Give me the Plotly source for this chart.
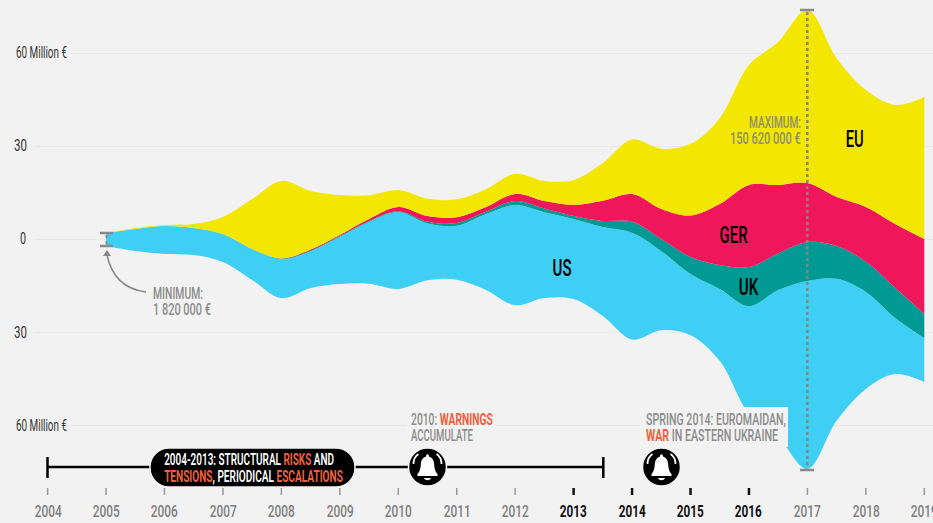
import json
import plotly.graph_objects as go
import numpy as np

years = [2005 + 0.5 * i for i in range(29)]
eu = [0, .3, .3, 1.3, 5.5, 16.1, 25, 18.9, 12.9, 7.7, 5.5, 5.6, 5.8, 5.8, 6.5, 6.5, 8, 12.2, 17.6, 19.4, 23.1, 27.7, 38.7, 46.1, 55.8, 44.8, 37.7, 38.4, 45.8]
ger = [0, 0, 0, 0, 0, 0, .1, .3, .3, .6, 1.3, 1.8, 1.8, 1.5, 2.3, 2.4, 3.6, 6.5, 8.9, 9.7, 13.4, 19.7, 26.5, 22.1, 19, 15.8, 17.7, 20.6, 24.2]
uk = [0, 0, 0, 0, 0, 0, .1, .2, .3, .3, .3, .6, .9, .7, 1.3, 1.2, 1, 2, 3.6, 3.9, 5.5, 7.7, 12.6, 11.8, 12.6, 10.6, 9.7, 9.7, 7.7]
us = [4.2, 7.1, 9, 8.7, 9, 10, 12.6, 11.9, 15.2, 20, 24.8, 18.3, 17.4, 24.5, 32.3, 27.7, 25.8, 28.7, 34.4, 25.5, 19.7, 23.2, 34.8, 47.4, 60.6, 45.8, 31.3, 18.1, 14.2]
tick_years = list(range(2004, 2020))
bold_years = [2013, 2014, 2015, 2016]
grid_values = [60, 30, 0, -30, -60]

W, H = 933, 523
FONT = "Roboto"
GREY = "#8b8b8b"
ORANGE = "#f0603c"
BG = "#f2f2f2"

def px(x): return x / W
def py(y): return 1 - y / H
def pp(x, y): return f"{px(x):.5f},{py(y):.5f}"

total = np.array(eu) + np.array(ger) + np.array(uk) + np.array(us)
base = -total / 2
series = [("US", us, "#40cff4"), ("UK", uk, "#009994"), ("GER", ger, "#f0165c"), ("EU", eu, "#f3e600")]

fig = go.Figure()
fig.add_trace(go.Scatter(x=years, y=base, mode="lines", line=dict(width=0, shape="spline", smoothing=1), showlegend=False, hoverinfo="skip"))
level = base.copy()
for name, vals, col in series:
    level = level + np.array(vals)
    fig.add_trace(go.Scatter(x=years, y=level, mode="lines", name=name, fill="tonexty", fillcolor=col,
                             line=dict(width=0, color=col, shape="spline", smoothing=1), showlegend=False))

shapes = []
annos = []
squeeze = []

def line(x0, y0, x1, y1, color, width, dash=None, layer="above"):
    shapes.append(dict(type="line", xref="paper", yref="paper", x0=px(x0), y0=py(y0), x1=px(x1), y1=py(y1),
                       line=dict(color=color, width=width, dash=dash or "solid"), layer=layer))

def path(d, fill=None, color=None, width=0, layer="above"):
    s = dict(type="path", xref="paper", yref="paper", path=d, layer=layer, line=dict(width=width, color=color or "rgba(0,0,0,0)"))
    if fill:
        s["fillcolor"] = fill
    shapes.append(s)

def rect(x0, y0, x1, y1, fill):
    shapes.append(dict(type="rect", xref="paper", yref="paper", x0=px(x0), y0=py(y0), x1=px(x1), y1=py(y1),
                       fillcolor=fill, line=dict(width=0), layer="above"))

def txt(x, y, s, width, size=16, color=GREY, anchor="left", weight=500, xref="paper"):
    annos.append(dict(xref=xref, yref="paper", x=px(x) if xref == "paper" else x, y=py(y), text=s, showarrow=False, xanchor=anchor, yanchor="middle",
                      borderpad=0, font=dict(family=FONT, size=size, color=color, weight=weight)))
    squeeze.append([anchor, width])

for v in grid_values:
    shapes.append(dict(type="line", xref="paper", yref="y", x0=px(70 if abs(v) == 60 else 35), x1=1, y0=v, y1=v,
                       line=dict(color="#e9e9e9", width=1), layer="below"))

rect(640, 407, 788, 447, BG)
rect(406, 410, 496, 445, BG)

DARK = "#333333"
txt(15, 53, "60 Million €", 51, 16, DARK, weight=400)
txt(28, 146, "30", 13, 16, DARK, "right", weight=400)
txt(27, 239, "0", 6, 16, DARK, "right", weight=400)
txt(28, 332, "30", 13, 16, DARK, "right", weight=400)
txt(15, 425, "60 Million €", 51, 16, DARK, weight=400)

line(100, 233, 113, 233, "#888888", 2.5)
line(100, 246, 113, 246, "#888888", 2.5)
line(106.5, 235, 106.5, 244, "#888888", 2, "dot")
path(f"M {pp(146, 292)} Q {pp(114, 288)} {pp(107, 255)}", color="#888888", width=1.5)
path(f"M {pp(107, 250)} L {pp(103, 256)} L {pp(111, 256)} Z", fill="#888888")
txt(152, 293, "MINIMUM:", 50)
txt(152, 309, "1 820 000 €", 58)

line(807.3, 12, 807.3, 468, "#858585", 2.5, "dot")
line(800, 10, 814, 10, "#888888", 2.5)
line(800, 470, 814, 470, "#888888", 2.5)
txt(802, 122, "MAXIMUM:", 52, color="#8f8f6a", anchor="right")
txt(802, 138, "150 620 000 €", 71, color="#8f8f6a", anchor="right")

for (x, y, s, w) in [(854, 139, "EU", 18), (733, 235, "GER", 28), (749, 287, "UK", 20), (562, 268, "US", 19)]:
    txt(x, y, s, w, 24, "#000000", "center")

line(47.5, 467, 603, 467, "#000000", 2.5)
line(47.5, 457, 47.5, 478, "#000000", 2.5)
line(603.3, 457, 603.3, 478, "#000000", 2.5)

def pill(x0, y0, x1, y1, r, fill, color, w):
    k = 0.55 * r
    d = (f"M {pp(x0 + r, y0)} L {pp(x1 - r, y0)} C {pp(x1 - r + k, y0)} {pp(x1, y0 + r - k)} {pp(x1, y0 + r)} "
         f"L {pp(x1, y1 - r)} C {pp(x1, y1 - r + k)} {pp(x1 - r + k, y1)} {pp(x1 - r, y1)} "
         f"L {pp(x0 + r, y1)} C {pp(x0 + r - k, y1)} {pp(x0, y1 - r + k)} {pp(x0, y1 - r)} "
         f"L {pp(x0, y0 + r)} C {pp(x0, y0 + r - k)} {pp(x0 + r - k, y0)} {pp(x0 + r, y0)} Z")
    path(d, fill=fill, color=color, width=w)

pill(150, 448, 355, 487, 19, "#000000", BG, 1.5)
o = lambda s: f'<span style="color:{ORANGE}">{s}</span>'
txt(163, 459, f"2004-2013: STRUCTURAL {o('<b>RISKS</b>')} AND", 170, color="#ffffff", weight=600)
txt(163, 476, f"{o('<b>TENSIONS</b>')}, PERIODICAL {o('<b>ESCALATIONS</b>')}", 179, color="#ffffff", weight=600)

def bell(cx, cy):
    shapes.append(dict(type="circle", xref="paper", yref="paper", x0=px(cx - 19), x1=px(cx + 19), y0=py(cy - 19), y1=py(cy + 19),
                       fillcolor="#000000", line=dict(color=BG, width=1.5), layer="above"))
    p = lambda dx, dy: pp(cx + dx, cy + dy)
    d = (f"M {p(-10, 9)} L {p(10, 9)} L {p(10, 7)} C {p(7, 4)} {p(7, 0)} {p(6.5, -4)} C {p(6, -9)} {p(2.5, -10)} {p(1.5, -10.5)} "
         f"C {p(1.5, -13.5)} {p(-1.5, -13.5)} {p(-1.5, -10.5)} C {p(-2.5, -10)} {p(-6, -9)} {p(-6.5, -4)} C {p(-7, 0)} {p(-7, 4)} {p(-10, 7)} Z")
    path(d, fill="#ffffff")
    path(f"M {p(-3.5, 11)} L {p(3.5, 11)} C {p(2.5, 14)} {p(-2.5, 14)} {p(-3.5, 11)} Z", fill="#ffffff")
    path(f"M {p(-14, -3)} C {p(-14, -7)} {p(-12, -11)} {p(-9, -13)}", color="#ffffff", width=1.8)
    path(f"M {p(14, -3)} C {p(14, -7)} {p(12, -11)} {p(9, -13)}", color="#ffffff", width=1.8)

bell(427.5, 467)
bell(661.5, 467)

txt(410, 419, f'2010: <b>{o("WARNINGS")}</b>', 82)
txt(410, 435, "ACCUMULATE", 62)
txt(645, 419, "SPRING 2014: EUROMAIDAN,", 140)
txt(645, 435, f'<b>{o("WAR")}</b> IN EASTERN UKRAINE', 132)

for yr in tick_years:
    b = yr in bold_years
    shapes.append(dict(type="line", xref="x", yref="paper", x0=yr, x1=yr, y0=py(488), y1=py(495),
                       line=dict(color="#111111" if b else "#999999", width=2.5 if b else 1.5), layer="above"))
    txt(yr, 511, str(yr), 27, 16, "#111111" if b else "#7d7d7d", "center", 700 if b else 500, xref="x")

fig.update_layout(
    width=W, height=H, margin=dict(l=0, r=0, t=0, b=0), paper_bgcolor=BG, plot_bgcolor=BG, showlegend=False,
    xaxis=dict(range=[2004 - 47.6 / 58.45, 2019 + 8.7 / 58.45], visible=False, fixedrange=True),
    yaxis=dict(range=[-283.5 / 3.1, 239.5 / 3.1], visible=False, fixedrange=True),
    shapes=shapes, annotations=annos,
)
post = """
document.body.style.margin='0';document.body.style.background='#f2f2f2';
var spec=%s;
document.querySelectorAll('.annotation').forEach(function(a){
  var s=spec[+a.getAttribute('data-index')];
  var t=a.querySelector('.annotation-text');
  var w=t.getBBox().width;
  t.style.transformBox='fill-box';
  t.style.transformOrigin=s[0]=='left'?'left center':(s[0]=='right'?'right center':'center center');
  t.style.transform='scaleX('+(s[1]/w)+')';
});
""" % json.dumps(squeeze)
fig.write_html("out.html", config={"displayModeBar": False}, post_script=post)
